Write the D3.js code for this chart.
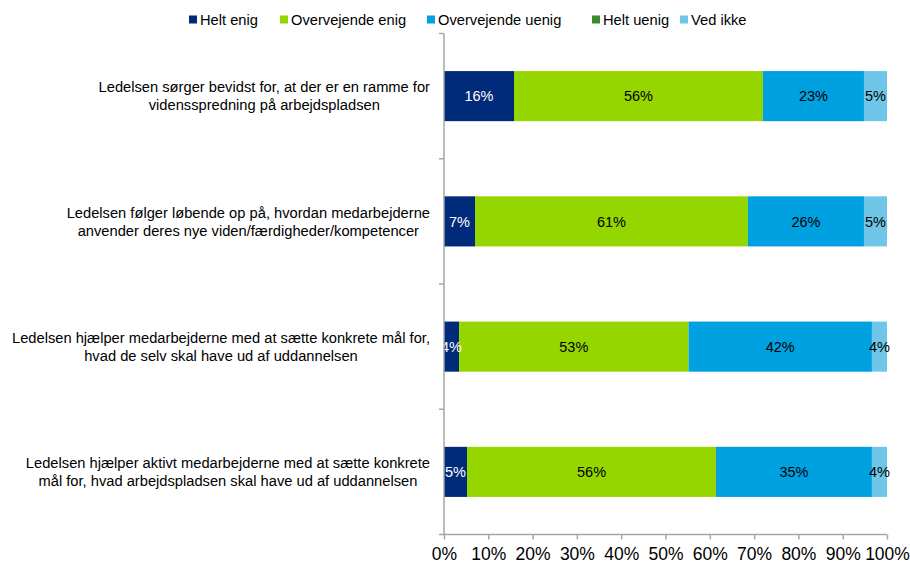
<!DOCTYPE html>
<html><head><meta charset="utf-8">
<script src="https://cdn.jsdelivr.net/npm/d3@7/dist/d3.min.js"></script>
<style>body{margin:0;background:#fff}svg{display:block;font-family:"Liberation Sans",Arial,sans-serif}</style>
</head><body><svg id="c" width="910" height="565"></svg>
<script>
const categories = [
  ["Ledelsen sørger bevidst for, at der er en ramme for","vidensspredning på arbejdspladsen"],
  ["Ledelsen følger løbende op på, hvordan medarbejderne","anvender deres nye viden/færdigheder/kompetencer"],
  ["Ledelsen hjælper medarbejderne med at sætte konkrete mål for,","hvad de selv skal have ud af uddannelsen"],
  ["Ledelsen hjælper aktivt medarbejderne med at sætte konkrete","mål for, hvad arbejdspladsen skal have ud af uddannelsen"]
];
const seriesNames = ["Helt enig","Overvejende enig","Overvejende uenig","Helt uenig","Ved ikke"];
const seriesColors = ["#002a7a","#95d500","#00a1e0","#3a8a2e","#70c6e8"];
const heltEnig = [15.8, 7.0, 3.4, 5.2];
const overvejendeEnig = [56.2, 61.6, 51.8, 56.2];
const overvejendeUenig = [22.8, 26.2, 41.4, 35.2];
const heltUenig = [0, 0, 0, 0];
const vedIkke = [5.2, 5.2, 3.4, 3.4];
const labelHeltEnig = ["16%","7%","4%","5%"];
const labelOvervejendeEnig = ["56%","61%","53%","56%"];
const labelOvervejendeUenig = ["23%","26%","42%","35%"];
const labelHeltUenig = ["","","",""];
const labelVedIkke = ["5%","5%","4%","4%"];
const xTicks = [0,10,20,30,40,50,60,70,80,90,100];

(function(){
const seriesValues = [heltEnig, overvejendeEnig, overvejendeUenig, heltUenig, vedIkke];
const seriesLabels = [labelHeltEnig, labelOvervejendeEnig, labelOvervejendeUenig, labelHeltUenig, labelVedIkke];
const labelColors = ["#fff","#000","#000","#fff","#000"];

const svg = d3.select("#c");
const pLeft = 444, pRight = 887, pTop = 33.5, pBottom = 534.5;
const x = d3.scaleLinear().domain([0,100]).range([pLeft,pRight]);
const y = d3.scaleBand().domain(d3.range(categories.length)).range([pTop,pBottom]).paddingInner(0.6).paddingOuter(0.3);

const rows = d3.range(categories.length).map(i => {
  const o = {i};
  seriesNames.forEach((s,k)=>o[s]=seriesValues[k][i]);
  return o;
});
const stack = d3.stack().keys(seriesNames)(rows);

stack.forEach((layer,k)=>{
  svg.append("g").selectAll("rect").data(layer).join("rect")
    .attr("x", d=>x(d[0])).attr("width", d=>x(d[1])-x(d[0]))
    .attr("y", d=>y(d.data.i)).attr("height", y.bandwidth())
    .attr("fill", seriesColors[k]);
});
stack.forEach((layer,k)=>{
  svg.append("g").selectAll("text").data(layer).join("text")
    .attr("x", d=>(x(d[0])+x(d[1]))/2)
    .attr("y", d=>y(d.data.i)+y.bandwidth()/2)
    .attr("dy","0.36em").attr("text-anchor","middle")
    .attr("font-size",14.5).attr("fill",labelColors[k])
    .text(d=>seriesLabels[k][d.data.i]);
});

const axisColor = "#a6a6a6";
svg.append("line").attr("x1",pLeft).attr("x2",pLeft).attr("y1",pTop).attr("y2",pBottom).attr("stroke",axisColor).attr("stroke-width",1.5);
svg.append("line").attr("x1",pLeft).attr("x2",pRight).attr("y1",pBottom).attr("y2",pBottom).attr("stroke",axisColor).attr("stroke-width",1.5);
d3.range(categories.length+1).forEach(j=>{
  const yy = pTop + j*(pBottom-pTop)/categories.length;
  svg.append("line").attr("x1",pLeft-5).attr("x2",pLeft).attr("y1",yy).attr("y2",yy).attr("stroke",axisColor).attr("stroke-width",1.5);
});
const xa = svg.append("g").attr("transform",`translate(0,${pBottom})`)
  .call(d3.axisBottom(x).tickValues(xTicks).tickSize(5).tickFormat(d=>d+"%"));
xa.select(".domain").remove();
xa.selectAll("line").attr("stroke",axisColor).attr("stroke-width",1.5);
xa.selectAll("text").attr("font-size",17.5).attr("font-family","Liberation Sans, Arial, sans-serif").attr("fill","#000").attr("dy","1.0em");

categories.forEach((lines,i)=>{
  const g = svg.append("g");
  const cy = y(i)+y.bandwidth()/2;
  const texts = lines.map((l,j)=>g.append("text").attr("font-size",14.7).attr("fill","#000")
    .attr("text-anchor","middle").attr("y", cy + (j-(lines.length-1)/2)*18).attr("dy","0.36em").text(l));
  const w = d3.max(texts, t=>t.node().getComputedTextLength());
  texts.forEach(t=>t.attr("x", 430 - w/2));
});

const legendX = [189, 280, 427, 592, 680];
seriesNames.forEach((s,k)=>{
  svg.append("rect").attr("x",legendX[k]).attr("y",15.5).attr("width",8).attr("height",8).attr("fill",seriesColors[k]);
  svg.append("text").attr("x",legendX[k]+11).attr("y",19.5).attr("dy","0.36em").attr("font-size",14.7).attr("fill","#000").text(s);
});
})();
</script></body></html>
